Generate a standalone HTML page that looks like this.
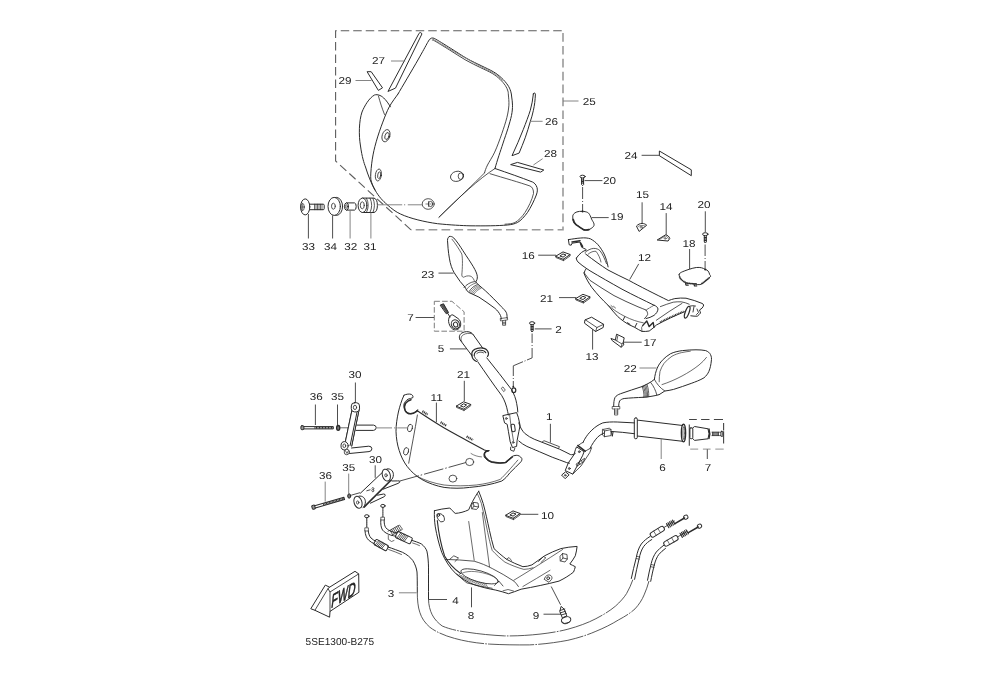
<!DOCTYPE html>
<html><head><meta charset="utf-8"><title>Parts diagram</title>
<style>
html,body{margin:0;padding:0;background:#fff;}
body{width:1005px;height:687px;overflow:hidden;font-family:"Liberation Sans",sans-serif;}
svg{display:block;}
svg text{font-family:"Liberation Sans",sans-serif;font-size:10px;fill:#222;stroke:none;text-rendering:geometricPrecision;}
.p{fill:none;stroke:#2b2b2b;stroke-width:1;stroke-linecap:round;stroke-linejoin:round;}
.w{fill:#fff;}
.l{stroke:#3a3a3a;stroke-width:0.9;fill:none;}
.g{stroke:#777;stroke-width:0.9;fill:none;}
.d{stroke:#7c7c7c;stroke-width:1;fill:none;stroke-dasharray:7 3.5;}
.c{stroke:#555;stroke-width:0.8;fill:none;stroke-dasharray:9 2 2 2;}
.t{stroke:#333;stroke-width:0.6;fill:none;}
</style></head><body>
<svg width="1005" height="687" viewBox="0 0 1005 687">
<rect width="1005" height="687" fill="#fff"/>
<!-- ===== Box 25 + windshield ===== -->
<g id="box25">
<path class="d" style="stroke:#5c5c5c;stroke-width:1.100;stroke-dasharray:8.500 4" d="M411,229.800 L335.600,161 V30.700 H563"/>
<path class="d" style="stroke:#9a9a9a;stroke-width:1.600;stroke-dasharray:8.700 4.200" d="M563,33 V229.800 H411"/>
<path class="g" d="M563,101 H578.5"/>
</g>
<g id="windshield" class="p">
<!-- main face -->
<path d="M398,94 C401.3,88.3 413,68.6 417.9,60 C422.8,51.4 425.7,46 427.6,42.5 Q429.4,38.6 431.5,38.1 Q433,37.8 434.3,38.4 C437.5,40.1 445.2,44.9 450.6,48.3 C456,51.6 461.8,55.6 466.9,58.5 C472,61.4 476.8,63.5 481.2,65.7 C485.6,67.9 490,69.8 493.4,71.8 C496.8,73.8 499.1,75.7 501.5,77.9 C503.9,80.1 506.2,82.8 507.7,85 C509.2,87.2 510,89.2 510.7,91.2 C511.4,93.2 511.4,94.7 511.7,97 C512,99.3 512.5,102.1 512.5,105.2 C512.5,108.3 512.3,111.5 511.5,115.4 C510.7,119.3 509.3,123.8 507.9,128.6 C506.4,133.3 504.8,137.8 502.8,143.9 C500.8,150 497,160.9 495,168.5"/>
<path d="M432.3,40 Q432.900,39.900 433.4,40.2 C436.4,41.8 444.2,46.7 449.6,50 C455,53.3 460.8,57.3 465.9,60.2 C471,63.1 475.9,65.3 480.3,67.5 C484.7,69.7 489.1,71.5 492.4,73.5 C495.7,75.5 497.9,77.4 500.1,79.4 C502.3,81.4 504.1,83.7 505.4,85.6 C506.7,87.5 507.4,89.4 507.9,91 C508.4,92.6 508.2,92.6 508.4,95 C508.6,97.4 509.1,101.5 508.9,105.2 C508.6,108.9 508.1,112.7 506.9,117.4 C505.7,122.2 503.8,127.9 501.8,133.7 C499.8,139.5 497.1,146.9 494.7,152.1 C492.3,157.3 489.2,161.6 487.5,165 C485.8,168.4 485,171.2 484.5,172.5" stroke-width="0.85"/>
<path d="M433.200,39.300 C452,50.500 478,65.500 492.800,72.700 C497,75 500,77.600 502.300,80.200" style="stroke:#888;stroke-width:1"/>
<path d="M398,94 C396.6,96.1 391.8,102.1 389.3,106.8 C386.8,111.5 385,116.3 382.8,122.1 C380.6,127.9 377.9,135.6 376.2,141.8 C374.4,148 373.2,153.4 372.3,159.2 C371.4,165 370.7,172.6 370.7,176.7 C370.7,180.8 371.5,181.8 372.2,184 C372.9,186.2 374.5,189 375,190"/>
<!-- left lobe -->
<path d="M390.4,106.8 C387,101 383,96.5 380,95.5 C378,94.5 376,94.5 374.5,95 C369,98 364.5,106 362,112 C359,121 358.6,135 360.5,146 C362,157 364,163 365.5,167 C368,175 371,183 375,190 C379,197 383,201 387,204.5 C392,209 396,212 400.5,214 C410,218.5 425,222 437.5,223.7 C450,225 462,225.6 470,225.8 C485,226 498,225.8 507.5,225 C512,224.6 515,223.7 517.5,222.5 C521,220.5 524,217 527.5,212.5 C531,207 534,201 536.3,195 C537.5,192 537.6,189.5 537,187.5 C536,184.5 534.5,183 532.5,182 C521,177.5 508,173 495,168.5"/>
<path d="M378.4,95.9 C380,102 382,108 384.5,114.5" stroke-width="0.8"/>
<!-- right lobe inner line -->
<path d="M490,173.7 C504,178 520,182.5 530,186 C532.5,187 533.7,190 533.5,193.5 C532,200 528.5,207 525,212.5 C522,217 518.5,220.5 515,222.5 C512,223.8 509,224 505,224.2" stroke-width="0.8"/>
<!-- crease -->
<path d="M495,168.5 C480,178 458,198 438.7,217.5 C456,201 474,183.5 485,172.5" stroke-width="0.8"/>
<!-- holes -->
<g stroke-width="0.8">
<ellipse cx="386" cy="135.7" rx="3.8" ry="6.3" transform="rotate(18 386 135.7)"/>
<ellipse cx="387" cy="136" rx="2" ry="3.6" transform="rotate(18 387 136)"/>
<ellipse cx="378.4" cy="175" rx="3" ry="6"  transform="rotate(8 378.4 175)"/>
<ellipse cx="379.2" cy="175.2" rx="1.5" ry="3.4" transform="rotate(8 379.2 175.2)"/>
<ellipse cx="457" cy="176.3" rx="6.6" ry="5"  transform="rotate(-15 457 176.3)"/>
<ellipse cx="460.8" cy="176.2" rx="2.6" ry="3.3"/>
<ellipse cx="428.2" cy="204" rx="6" ry="5.3"/>
<ellipse cx="430.5" cy="204" rx="2.2" ry="2.6"/>
</g>
</g>
<!-- strips 26..29 -->
<g id="strips" class="p" stroke-width="0.9">
<path d="M419.300,33 C420.100,32 421.600,32.600 421.900,34 L395.500,88.100 L388.300,91.300 Z"/>
<path d="M367.5,71.7 L371.2,71.7 L382.5,87.8 L378.7,90.2 Z"/>
<path d="M533.400,93.800 C533.700,92.600 535.300,92.800 535.400,94.100 C535.200,100 534.500,105.500 533.400,110.300 C532.500,114.500 531.500,118 530.300,121.500 C528.800,127 527,132.500 525.200,137.800 C523.300,143 521.200,148 519.100,153.100 L512,155.700 C516,147 519.800,138.500 523.200,129.700 C526,122.500 528.500,116 530.300,110.300 C531.800,105 532.800,99.500 533.400,93.800 Z"/>
<path d="M511,164.5 L517.5,162.4 L543.8,170 L541,171.9 Z"/>
</g>
<g id="stripleaders" class="g">
<path d="M391,61 H405.200"/>
<path d="M355.5,80.5 H371.5"/>
<path d="M531,121.300 H542.600"/>
<path d="M542.600,158.700 L533.400,165"/>
</g>
<!-- ===== parts 31-34 ===== -->
<g id="p33" class="p" stroke-width="0.9">
<ellipse class="w" cx="305.2" cy="206.9" rx="4.6" ry="8"/>
<path d="M309.6,204.2 H323.2 Q324.2,204.2 324.2,205.2 V208.7 Q324.2,209.7 323.2,209.7 H309.6"/>
<path d="M314.5,204.2 V209.7 M316,204.2 V209.7 M317.5,204.2 V209.7 M319,204.2 V209.7 M320.5,204.2 V209.7 M322,204.2 V209.7" stroke-width="0.7"/>
<ellipse cx="302.6" cy="207" rx="1.7" ry="3.6" stroke-width="0.7"/>
<path d="M300.9,207 H304.3 M302.6,203.6 V210.4" stroke-width="0.6"/>
</g>
<path class="l" d="M308.4,214 V238.5"/>
<g id="p34" class="p" stroke-width="0.9">
<ellipse cx="336.4" cy="206.4" rx="6.2" ry="9"/>
<ellipse class="w" cx="334.2" cy="206.4" rx="6.2" ry="9"/>
<ellipse cx="333.4" cy="206.2" rx="1.9" ry="3" stroke-width="0.8"/>
</g>
<path class="l" d="M332.6,215.4 V238.5"/>
<g id="p32" class="p" stroke-width="0.9">
<path d="M346.5,202.9 H354.5 Q356.2,203.2 356.2,206.5 Q356.2,209.8 354.5,210.1 H346.5"/>
<ellipse class="w" cx="346.5" cy="206.5" rx="2" ry="3.6"/>
<ellipse cx="346.5" cy="206.5" rx="0.9" ry="1.7" stroke-width="0.7"/>
</g>
<path class="g" d="M350.1,210.4 V238.5"/>
<g id="p31" class="p" stroke-width="0.9">
<path d="M362.5,198.1 H374 Q377.4,199 377.4,205.3 Q377.4,211.6 374,212.5 H362.5"/>
<path d="M366.5,198.2 Q370,205.3 366.5,212.4 M370,198.2 Q373.5,205.3 370,212.4 M373,198.4 Q376,205.3 373,212.3" stroke-width="0.8"/>
<ellipse class="w" cx="362.5" cy="205.3" rx="4.4" ry="7.2"/>
<ellipse cx="362.3" cy="205.3" rx="2" ry="3.5" stroke-width="0.8"/>
</g>
<path class="g" d="M370.9,212.5 V238.5"/>
<path class="g" d="M377.5,204.8 H402.2 M404,204.8 H405.2 M407.8,204.8 H422.2"/>
<path class="t" d="M425.5,204 H431.5 M428.5,201 V207"/>

<!-- ===== mirror 23 ===== -->
<g id="mirror23" class="p" stroke-width="0.9">
<path d="M449.3,236.5 C447.5,237.5 447.2,239.5 447.7,243 C448,250 449,257 450.2,262.5 C451.5,268 453.5,272 455.7,275 C458.5,279.5 461.5,283.5 464.8,287"/>
<path d="M449.3,236.5 C451,236 452.5,236.8 453.8,238 C457,241.5 460,246 463,250.8 C467,257 470.5,262 473.3,266.7 C475.5,270.5 477,273.5 477.3,276.3 C477.5,278.8 476.8,280.5 475.7,282"/>
<path d="M452,239.200 C455.500,243.500 459,249 461.800,254 C462.800,258.500 462.500,268 461.800,275 C462,277 463.200,277.800 464.500,276.800 C467,275.500 470,275.700 471.300,276.500 C472.800,277.500 473.800,279 474.300,280.500" stroke-width="0.7"/>
<!-- stem -->
<path d="M464.8,287 C466,289 467,291 468.5,292.3 C472,294 475.5,295.5 478.9,297.1 C484,300.5 490,304.5 494.9,308.3 C497.5,310.5 499.3,313 500.5,315.5 C501,316.7 501.2,317.8 501.3,319"/>
<path d="M475.7,282 C476.5,282.5 478,284 479,285.3 C481,287 483.5,289 485.3,290.7 C491,296 497,302 501.3,306.7 C503.5,308.8 505.2,310.5 506.2,312.3 C507,314 507.2,316 507,318"/>
<path d="M464,287.500 C466.500,284.500 470.500,282 474.800,281.500" stroke-width="0.8"/>
<path d="M469.100,291.500 C471,288.300 474.200,285.700 477.300,284.600" stroke-width="0.8"/>
<path d="M470.300,292.300 C472.200,289.200 475.200,286.700 478.300,285.500 M471.500,293 C473.400,290 476.300,287.600 479.300,286.400 M472.700,293.600 C474.600,290.700 477.400,288.400 480.300,287.300 M473.900,294.200 C475.700,291.500 478.400,289.300 481.200,288.200" stroke-width="0.55"/>
<path d="M466.300,289.800 C468.500,286.500 472,284 476,283" stroke-width="0.6"/>
<path d="M500.6,318.5 L507.4,317.6 L507.7,319.8 L500.9,320.9 Z M502.6,320.8 V325.3 H505.6 V320.4 M502.6,322.3 H505.6 M502.6,323.8 H505.6" stroke-width="0.7"/>
</g>
<path class="l" d="M438.5,273.1 H453.6"/>

<!-- ===== part 7 left (box + grip end) ===== -->
<g id="box7l">
<path class="d" style="stroke-dasharray:5.6 2.2" d="M434.3,301.3 H451.9 L464.1,311.8 V331.2 H434.3 Z"/>
<path class="l" d="M415.6,317.5 H434"/>
<g class="p" stroke-width="0.8">
<path d="M440.5,305 L443.5,303.8 L448.5,312.5 L446.6,313.6 Z" fill="#555"/>
<path d="M447.5,313 L450,317" />
<path d="M449.5,316.8 C448.5,318.5 448.2,321 449,323.5 C450,327 452,329.3 454.5,329.8 C457.5,330.3 460.3,328.3 460.7,325 C461,322 459.8,319.7 458,318.5 L453,315 C451.8,314.5 450.4,315.3 449.5,316.8 Z"/>
<ellipse cx="455.4" cy="324.3" rx="4" ry="4.6" transform="rotate(-25 455.4 324.3)"/>
<ellipse cx="455.6" cy="324.6" rx="2.1" ry="2.5" transform="rotate(-25 455.6 324.6)"/>
</g>
</g>
<!-- ===== part 24 ===== -->
<path class="p" stroke-width="0.9" d="M659.7,151.2 L691.3,169.8 V175.7 L659.7,155.9 Z"/>
<path class="l" d="M641.6,155.3 H659.7"/>
<!-- ===== screw 20 L + 19 ===== -->
<g id="p20l" class="p" stroke-width="0.8">
<ellipse cx="582.6" cy="176.6" rx="2.6" ry="1.4"/>
<path d="M581.6,178 V184.6 L582.6,185.6 L583.6,184.6 V178 M581.6,180 H583.6 M581.6,181.5 H583.6 M581.6,183 H583.6"/>
</g>
<path class="l" d="M584.6,180.6 H602.4"/>
<path class="l" d="M582.6,187 V199 M582.6,201 V202 M582.6,204 V211" stroke-width="0.8"/>
<g id="p19" class="p" stroke-width="0.9">
<path d="M582.3,211.3 C584.1,211.4 586.4,211.8 587.7,212.5 C589.0,213.2 589.5,214.4 590.1,215.5 C590.8,216.6 591.0,217.7 591.6,219.1 C592.2,220.5 593.8,222.6 594.0,223.9 C594.2,225.2 594.0,226.0 593.1,226.9 C592.2,227.8 590.4,229.1 588.9,229.6 C587.4,230.1 585.8,230.4 584.1,229.9 C582.4,229.4 580.4,227.5 578.7,226.3 C577.0,225.1 575.0,224.1 574.0,222.7 C573.0,221.3 572.9,219.3 572.8,217.9 C572.7,216.5 572.7,215.3 573.4,214.3 C574.1,213.3 575.4,212.4 576.9,211.9 C578.4,211.4 580.5,211.2 582.3,211.3 Z"/>
<path d="M573.2,219.500 C573.600,221.500 574.500,223.300 576,224.600 C578.500,226.400 581.500,228.500 584.100,229.900 C585.800,230.100 587.500,230 588.900,229.600" stroke-width="1.700"/>
<circle cx="582.600" cy="211.600" r="1" style="fill:#222;stroke:none"/>
</g>
<path class="l" d="M591.6,217.6 H608.7"/>
<!-- ===== 15 / 14 ===== -->
<path class="l" d="M642.1,202.3 V224"/>
<g id="p15" class="p" stroke-width="0.9">
<path d="M636.7,225.8 C638,224.3 640,223.5 642.1,223.4 C644,223.5 645.7,224.2 646.7,225.2 L639.4,231.2 Z"/>
<path d="M638,226.5 C639.5,225.3 642.5,225 645,226" stroke-width="0.6"/>
<ellipse cx="641.2" cy="227.2" rx="1.1" ry="0.9" stroke-width="0.6"/>
</g>
<path class="l" d="M666.2,213.1 V234.8"/>
<g id="p14" class="p" stroke-width="0.9">
<path d="M657.5,239.8 L665.6,234.8 C667.5,235.2 669.2,236.5 669.8,238.4 L668.3,240.7 Z"/>
<path d="M659.5,239.3 L665.5,236 C667,236.5 668,237.5 668.5,238.8" stroke-width="0.6"/>
<ellipse cx="665.2" cy="238.4" rx="1" ry="0.8" stroke-width="0.6"/>
</g>
<!-- ===== screw 20 R + 18 ===== -->
<path class="l" d="M705.3,211.3 V232"/>
<g id="p20r" class="p" stroke-width="0.8">
<ellipse cx="705.3" cy="234.2" rx="2.7" ry="1.5"/>
<path d="M704.3,235.7 V242 L705.3,243 L706.3,242 V235.7 M704.3,237.5 H706.3 M704.3,239 H706.3 M704.3,240.5 H706.3"/>
</g>
<path class="l" d="M705.1,244.5 V256 M705.1,258 V259 M705.1,261 V268.6" stroke-width="0.8"/>
<path class="l" d="M689.6,249 V269"/>
<g id="p18" class="p" stroke-width="0.9">
<path d="M679.3,274.1 C679.6,273.5 679.7,273.1 681.3,272.3 C682.9,271.5 686.6,270.1 689.1,269.3 C691.6,268.5 694.2,267.8 696.3,267.5 C698.4,267.2 700.1,267.5 701.6,267.8 C703.1,268.1 704.1,268.8 705.2,269.3 C706.3,269.9 707.5,270.2 708.2,271.1 C709.0,272.0 709.4,273.7 709.7,274.7 C710.0,275.7 711.5,275.5 710.0,277.1 C708.5,278.7 703.7,283.2 701.0,284.3 C698.3,285.4 696.3,283.9 693.9,283.7 C691.5,283.5 688.8,283.8 686.7,283.1 C684.6,282.4 682.5,280.7 681.3,279.5 C680.1,278.3 679.6,276.8 679.3,275.9 C679.0,275.0 679.0,274.7 679.3,274.1 Z"/>
<path d="M679.500,276.500 C680,278 681,279.500 682.500,280.600 C684,281.800 685.500,282.600 686.700,283.100 C690,283.600 694,283.800 697,284 M701.500,283.800 C704.500,281.500 707.500,279.200 709.800,277.300" stroke-width="1.700" stroke-dasharray="1 0.500" stroke-linecap="butt"/>
<path d="M685.500,283.500 L686,285.200 L688.200,285.200 M694,284.200 L694.500,286 L696.800,285.800" stroke-width="1.200"/>
<circle cx="705.300" cy="269.500" r="1.100" style="fill:#222;stroke:none"/>
</g>
<!-- ===== clips 16, 21(R), 21(L), 10 ===== -->
<defs>
<g id="clip">
<path d="M-7.100,0.500 L0,-3.700 L7.100,-1.100 L0.500,3.500 Z"/>
<path d="M-7.100,0.500 V1.900 L0.500,5 V3.500 M0.500,5 L7.100,0.300 V-1.100" stroke-width="0.8"/>
<path d="M-2.800,0.200 L0,-1.700 L3,-0.600 L0.400,1.300 Z" stroke-width="1"/>
</g>
</defs>
<g class="p" stroke-width="0.9">
<use href="#clip" x="563" y="255.6"/>
<use href="#clip" x="582.9" y="298"/>
<use href="#clip" x="463.6" y="405.5"/>
<use href="#clip" x="513" y="514.6"/>
</g>
<path class="l" d="M538.2,255.2 H556"/>
<path class="l" d="M559,297.6 H576.2"/>
<path class="l" d="M464.3,380.8 V401.3"/>
<path class="l" d="M520.2,514.3 H538.3"/>
<!-- ===== 13 ===== -->
<g id="p13" class="p" stroke-width="0.9">
<path d="M585.300,319.800 L591.600,317.200 L603.600,324.300 L603.200,327.500 L595.600,331.500 L584.800,323.400 Z"/>
<path d="M585.300,319.800 L596.900,327.500 L603.600,324.300 M596.900,327.500 L595.600,331.500" stroke-width="0.8"/>
</g>
<path class="l" d="M592.600,329.200 V349.600"/>
<!-- ===== 17 ===== -->
<g id="p17" class="p" stroke-width="0.9">
<path d="M611.300,338.600 L615.300,340 L616.600,334.200 L624.200,337.800 L623.300,342.200 L623.800,344.900 L621.100,347.200 L612.600,340.900 Z"/>
<path d="M615.300,340 L622,344 L623.300,342.200 M622,344 L621.100,347.200 M617.800,335.800 L616.800,340.800" stroke-width="0.75"/>
</g>
<path class="l" d="M624,342.200 H641.700"/>
<!-- ===== screw 2 ===== -->
<g id="p2" class="p" stroke-width="0.8">
<ellipse cx="532.1" cy="323.2" rx="2.6" ry="1.5"/>
<path d="M531.1,324.7 V331 L532.1,332 L533.1,331 V324.7 M531.1,326.5 H533.1 M531.1,328 H533.1 M531.1,329.5 H533.1"/>
</g>
<path class="l" d="M534.7,328.9 H551.6"/>
<path class="l" stroke-width="0.8" d="M532.1,333.5 V343 M532.1,345 V346 M532.1,348 V357.9 L527,360 M525.5,360.7 L524.5,361.1 M523,361.7 L513.3,365.8 V376 M513.3,378 V379 M513.3,381 V386.5"/>
<!-- ===== part 12 (upper handlebar cover) ===== -->
<g id="p12" class="p" stroke-width="0.9">
<!-- left hook bracket -->
<path d="M568.400,239.600 L569.200,244.800 L571.200,245.200 L572,243.200 L580,242 L581.600,247.200 L585.600,249.200 M568.400,239.600 C573,239 577,238.2 580.8,238 C584.5,237.6 588,238 590.4,238.8 C593.5,240.5 596,242.5 597.7,244.4 C600.5,247.5 602.5,251 604.1,254 C606,258 607.3,262.5 608.1,266.9"/>
<path d="M572,242 L580,240.800 M580.500,243 L582.500,246.500" stroke-width="1.600"/>
<path d="M585,252.5 C587.5,250.2 590.5,248.6 593.7,248.4 C596.5,248.3 598.5,249.3 600.1,250.8 C602.8,254.5 604.8,259 606.5,263.7" stroke-width="0.8"/>
<path d="M588,254.3 C590.5,252 593.5,251 596,251.3 C598.5,254.5 600.3,258.5 601,262" stroke-width="0.7"/>
<!-- beam top surface -->
<path d="M576.400,258 C577.800,256 579.600,254 581.600,252.400 C583,251.300 584.800,250.500 586.400,250 M585.600,254 C589.500,257 593.500,260 597,262.500 C600.500,265 604.500,267.800 608,270 C614.500,273.500 621.500,276.800 628.900,280.400 C640,286.500 655,294 668.400,300.600 C670.500,299.800 672.600,299.100 674.800,298.600 C678.500,298 682.500,297.900 686,298.200 C691.500,299.500 697,301.300 702,303.400 C702.800,303.800 703.400,304.300 703.700,305 C703.400,306.200 702.800,307.300 702,308.200 C701.200,308.900 700.300,309.500 699.500,310 C700,311 700.300,312 700.500,313 C699.600,314.200 698.500,315.300 697.300,316.200 C695.200,316.300 693,316.100 690.800,315.800"/>
<path d="M576.400,258 C576.300,259.500 577,260.800 578,262 C580.500,264.200 583.500,266.500 586.400,268.400 L590,270.800 C600,276.800 611,283 622,289.200 C633,295 644,300.300 654,305.200 C656.300,306 657.800,307.400 658,309 C657.800,311.500 656.200,313.700 654,315.400 C651.500,316.900 648.800,318 646,318.600"/>
<path d="M584,272.500 C586,275.500 588,278 590,280.400 C598,285.800 606,290.800 614,295.600 C622,299.800 630,303.300 638,306.800 C641,308 643.500,309 646,310 C647.200,311.400 647.800,313 647.600,314.600 C646.800,316.200 645.700,317.600 644.400,318.600" stroke-width="0.85"/>
<path d="M654,305.200 L646,310" stroke-width="0.7" stroke-dasharray="2 1"/>
<path d="M586.400,268.400 C585.300,269.800 584.400,271.500 584,273.300 C586,278.500 589,283.500 592,287.700 C597,294 602.500,300 608.100,305.300 C611.200,309.200 614.500,313 617.700,316.500 C621.200,319.700 625,322.400 628.900,324.600 C630.800,325.600 632.800,326.500 634.800,327.400 C637,328.800 639.500,330.200 642,331.400 C644.500,331.600 647,331.400 649.200,331 C651.800,329.300 654.200,327.200 656.400,325 C665.500,320 675.500,315.500 684.400,311.800"/>
<!-- right arm -->
<path d="M660.400,306.600 C664.500,305 669,303.400 673.200,302.200 C675.800,301.800 678.500,301.700 681.200,301.800 C684,302.300 686.800,303.100 689.200,304.200" stroke-width="0.8"/>
<path d="M656.400,320.200 C664.500,314.500 673.500,308.500 682,303.400" stroke-width="0.8"/>
<path d="M660,322.200 C667,318.500 675,315 683.500,311.300" stroke-width="1.700" stroke-dasharray="0.9 0.800" stroke-linecap="butt"/>
<ellipse cx="687.200" cy="312.200" rx="1.900" ry="6.200" transform="rotate(20 687.200 312.200)" stroke-width="1.300"/>
<path d="M690.300,306 C692,305.600 693.800,305.600 695.500,306 M694,306.500 L693,312 M697,309 L698.500,312.500 L696.500,314.500" stroke-width="0.9"/>
<!-- bottom details -->
<path d="M608.100,305.300 C613,309.500 619,313.500 625,316.500 C631,319.500 637.500,321.800 643.300,322.800 M611,305.500 L613,307.300 M613.500,306.300 L615.500,308" stroke-width="0.7"/>
<path d="M624.700,316.700 L623.300,319.800 M636.800,323.400 L635,327 M627.500,322.700 L630,324.400" stroke-width="1"/>
<path d="M642.800,325.400 L646.800,321 L649.200,326.600 L653.200,322.600 L654,327.400" stroke-width="1.400"/>
<path d="M642,331.400 L641.600,327.500 L642.800,325.400" stroke-width="0.7"/>
</g>
<path class="l" d="M638.7,263.9 L629.7,279.5"/>

<!-- ===== mirror 22 ===== -->
<g id="mirror22" class="p" stroke-width="0.9">
<path d="M654.400,379.400 C654.800,375.500 655.800,371.500 657.200,368.200 C658.500,365 660.300,362.500 662.400,360.200 C664.800,357.700 667.500,355.500 670.400,353.800 C674,352 678,351.200 682.400,350.600 C687,350.100 691.500,349.800 696,349.800 C699.500,349.800 702.800,350 705.700,350.600 C708,351.500 709.700,352.800 710.500,354.600 C711.500,356.500 711.700,358.800 711.300,361 C711,364.500 710.200,368.200 708.900,371.400 C707.800,373.800 706.200,376 704,377.800 C700,380.200 695.500,381.800 691.200,383.400 C685.500,385.500 679.500,387.500 673.600,389.400 C670.500,390.200 667.500,390.700 664.800,391 C662.800,392.200 660.800,393.500 659.200,394.600"/>
<path d="M659.200,381.800 C659.200,378.300 659.400,374.800 660,371.400 C661,368.500 662.300,365.800 664,363.400 C666.200,360.700 669,358.300 672,356.200 C675,354.500 678.300,353.400 681.600,352.600 C684.500,352 687.500,351.500 690.300,351.200" stroke-width="0.7"/>
<path d="M662,384.600 C668.500,382.500 675.500,379.500 682,376 C688,372.800 694,369 699,365 C702,362.500 704.600,360 706.500,357.400" stroke-width="0.7"/>
<!-- neck -->
<path d="M654.400,379.400 C652.500,381 650,382.600 648,383.600 C646,384.700 644,385.700 642.200,386.500 M659.200,394.600 C657.500,395.200 654.500,395.800 652,396.200 C649,396.800 646,397.200 643.100,397.300"/>
<path d="M654.400,379.400 C656.800,383.800 660,388 664.800,391 M650.800,382.600 C653.500,386 655.800,390.500 656.800,394.900" stroke-width="0.8"/>
<path d="M642.200,386.500 C643.500,390 644.200,394 643.900,397.300 M643.400,386 C644.700,389.600 645.400,393.600 645.100,397.200 M644.600,385.500 C645.900,389.100 646.600,393.200 646.300,397.100 M645.800,385 C647.100,388.700 647.800,392.900 647.500,396.900 M647,384.400 C648.300,388.200 649,392.500 648.700,396.700" stroke-width="0.75"/>
<!-- stem -->
<path d="M642.2,386.5 C635,388.8 627.5,391.3 620.6,393.7 C618,394.6 616.2,395.8 615.1,397.3 C614,399.5 613.7,402.8 613.7,406.3"/>
<path d="M643.1,397.3 C637,397.6 630,397.9 624.2,398.5 C622,398.9 620.5,399.8 619.6,400.9 C618.9,402.5 618.7,404.5 618.7,406.3"/>
<path d="M612.6,406.5 H619.8 V409 H612.6 Z M614.5,409 V415 H617.7 V409 M614.5,411 H617.7 M614.5,413 H617.7" stroke-width="0.7"/>
</g>
<path class="g" d="M639.5,368 H656.7"/>

<!-- ===== grip 6 ===== -->
<g id="grip6" class="p" stroke-width="0.9">
<path d="M637.3,420.1 L682.7,425.5 M637.3,436 L682.7,441.3"/>
<rect x="634.3" y="417.8" width="3" height="21" rx="1.5" class="w"/>
<ellipse cx="683.500" cy="433.100" rx="2.100" ry="8.800" stroke-width="1.400"/>
<ellipse cx="683.900" cy="433.100" rx="1" ry="6.600" stroke-width="0.7"/>
</g>
<path class="g" d="M661.2,438.7 V459"/>
<!-- ===== box 7 right ===== -->
<g id="box7r">
<path d="M689.100,419.500 H696.800 M701.100,419.500 H709.500 M713.900,419.500 H723 M689.300,424.600 V445.700 M723.600,423.100 V430.400 M723.600,431.300 V443.500" style="stroke:#444;stroke-width:1.100;fill:none"/>
<path d="M690.200,449.200 H698.200 M702.900,449.200 H710.600 M715.300,449.200 H723.700" style="stroke:#a8a8a8;stroke-width:1.300;fill:none"/>
<path class="l" d="M707.300,449.300 V459"/>
<g class="p" stroke-width="0.9">
<path d="M692.8,427.9 L694.6,426.5 L708,428.8 Q710,433.8 708,438.8 L694.6,440.4 L692.8,438.7"/>
<rect x="689.9" y="427.9" width="2.9" height="10.8" rx="1"/>
<path d="M709,429 Q710.6,433.8 709,438.6" stroke-width="1.4"/>
<path d="M711.9,432.2 H721 M711.9,435.6 H721" stroke-width="0.7"/>
<path d="M712.5,432.2 V435.6 M713.7,432.2 V435.6 M714.9,432.2 V435.6 M716.1,432.2 V435.6 M717.3,432.2 V435.6 M718.5,432.2 V435.6" stroke-width="0.8"/>
<rect x="720.9" y="431.3" width="1.9" height="5.2" rx="0.8"/>
</g>
</g>
<!-- ===== grip 5 + handlebar 1 ===== -->
<g id="grip5" class="p" stroke-width="0.9">
<path d="M460.1,339.9 L472.3,356.2 M473.3,334.8 L483,348.5"/>
<path d="M460.1,339.9 C458.6,337.3 459.3,334.6 461.8,333 C464.8,331.2 468.5,331.3 471,332.6 C472,333.2 472.8,334 473.3,334.8"/>
<path d="M461.700,341.5 C460.300,339 461,336.300 463.300,334.800 C466,333.200 469.300,333 471.800,333.700" stroke-width="0.7"/>
<!-- collar -->
<path d="M471.800,354.600 C471.500,351.800 473.800,349.200 477.500,348.300 C481.500,347.500 485.800,348.500 487.600,351 C488.800,352.800 488.700,354.800 487.500,356.500" stroke-width="1.2"/>
<path d="M471.800,354.600 C471.800,357.500 473.500,360.300 476.500,361.500" stroke-width="1.2"/>
<path d="M474.200,355.300 C474.300,352.800 476.300,350.800 479.300,350.300 C482.300,350 484.800,351 485.800,352.700" stroke-width="1.1"/>
<path d="M474.200,355.300 C474.500,357.500 475.800,359.300 477.800,360.500 M476.800,353.500 C478.500,351.800 481.500,351.600 483.500,352.800" stroke-width="0.8"/>
</g>
<path class="l" d="M449.9,348.9 H466.5"/>
<g id="hbar" class="p" stroke-width="0.9">
<!-- left pipe -->
<path d="M477.8,361.8 C485,372 493,384 501.8,395.7 C504.5,400 506.5,405.5 507.7,411.7 C508,413 508.2,414 508.3,415"/>
<path d="M486.8,357.9 C495,368 503.5,379 511.7,389.8 C514,394 516,399 516.7,403.7 C517.3,406.5 517.7,409.5 517.8,412"/>
<path d="M503.2,387.2 L505.3,390.2 L503.6,391.6 L501.5,388.6 Z" stroke-width="0.7"/>
<ellipse cx="513.800" cy="390.300" rx="2" ry="2.400" stroke-width="1.200"/>
<circle cx="513.3" cy="386.7" r="0.9" fill="#222" stroke="none"/>
<!-- left bracket -->
<path d="M503.200,415.500 L516.600,412.600 L518.300,417.300 L520.100,425.500 L518.900,431.300 L517.100,440.600 L516.600,446.400 L512.500,447.600 L510.200,441.800 L508.400,431.300 L507.200,424.300 L504.900,423.100 Z"/>
<path d="M509.600,414.200 L510.500,422 L512,432 L513.500,441" stroke-width="0.7"/>
<rect x="511.300" y="424.200" width="3.600" height="7.400" rx="1.300" transform="rotate(-8 513.100 427.800)" stroke-width="1"/>
<circle cx="506.300" cy="418.500" r="0.900" stroke-width="0.8"/>
<circle cx="513.100" cy="442.400" r="0.900" stroke-width="0.8"/>
<path d="M510.700,447.200 L510.500,450 L513.800,451.300 L514.800,448.300" stroke-width="0.9"/>
<!-- middle pipe -->
<path d="M518.8,422.9 C520,427.5 522.5,431.2 525.1,433.7 C528,436 531,437.8 534.2,439.2 C542.5,442.5 551,445.8 559.4,449.1 C563,450.8 567,452.8 570.3,454.5 C572,455 574,454.6 575.3,453.5"/>
<path d="M518.8,441 C521,443 524,445 526.9,446.4 C535.5,450 544,453.7 552.2,457.2 C557,459 562,460.8 566.7,462.6 C567.8,463 568.7,463.2 569.5,463.2"/>
<path d="M542.3,441.9 L544,440.7 L559.5,446.7 L558.5,448.4" stroke-width="0.8"/>
<!-- right bracket -->
<path d="M576.900,447.100 L584.100,451.700 L582.500,455.800 L572.800,474.100 L565.200,470.600 L568.300,462.900 L573.900,454.800 L575.400,449.700 Z"/>
<path d="M577.900,445.600 L585.100,451.200" stroke-width="1.700"/>
<path d="M577.900,445.600 L582.500,442.500 M585.100,451.200 L591.700,447.600 L589.700,452.700 L581,466 L572.800,474.100" stroke-width="0.8"/>
<path d="M576.400,463.900 L584.600,458.300 L583.600,461.500 L577.500,466 Z M579,462.300 L580,464.200 M581.500,460.600 L582.300,462.400" stroke-width="0.8"/>
<circle cx="579.300" cy="451.700" r="0.900" stroke-width="0.9"/>
<circle cx="569.300" cy="468.500" r="0.900" stroke-width="0.9"/>
<path d="M565.200,472.100 L561.600,475.100 L565.200,478.700 L568.800,475.100 Z" stroke-width="1"/>
<circle cx="565.200" cy="475.300" r="0.800" stroke-width="0.8"/>
<!-- right pipe -->
<path d="M582.9,442.8 C583.5,441.5 584,440.3 584.7,439.2 C586.5,436 589,432.8 591.9,430.1 C595,427 598.8,424.5 602.8,422.9 C607,422 612,421.8 617.2,422 C623,422.3 629,422.6 634.4,422.9"/>
<path d="M590.1,448.2 C592,444.5 594.5,440.5 597.4,437.4 C599.5,435.3 602,433.8 604.6,432.8"/>
<path d="M610.9,431.4 C618.5,431.8 627,432.8 634.4,433.7"/>
<!-- switch tab -->
<path d="M602.8,429.5 L609.3,428.2 L611,429.5 L611,435.6 L604.5,436.7 L602.8,435.3 Z M604.5,431 V436.7 M604.5,431 L611,429.6 M602.8,429.5 L604.5,431" stroke-width="0.8"/>
<path d="M611.5,431.5 L612.3,436.3 L613.1,432" stroke-width="1"/>
</g>
<path class="l" d="M550.4,423.8 V442.6"/>

<!-- ===== cover 11 ===== -->
<g id="p11" class="p" stroke-width="0.9">
<path d="M404,395.2 C406.5,394 409.5,393.7 411.3,394.4 C412.8,395.2 413.3,396.5 412.9,397.6 C411.5,398.3 409.7,398.6 408,399.2 C406,400.5 404.6,402.2 404,404 C403.6,406.5 404.3,409.2 405.6,411.3 C407.5,413.2 410,414 412,413.7 C414.2,413 416.3,411.3 417.7,409.6"/>
<path d="M404,395.2 C401.5,400.5 399.7,406.5 398.4,412 C397,418.5 396,425 396,431.3 C396.2,438 397.3,445 399.2,450.5 C401,456.5 403.8,462 407.2,466.5 C411,471.5 416,476 421.7,479.4 C428.5,483.3 436.5,486 444.1,487.4 C452.5,488.5 461.5,488.5 469.7,487.4 C481,486.5 492.5,484.3 501.8,481 C505,479 507.5,476 509.8,472.9 C513.5,469.3 517.5,465.3 521,461.7 C521.8,460.6 522.1,459.5 521.8,458.5 C520.5,456.3 518.3,455.2 516.2,455.3 C514.3,455.4 512.7,456 511.4,456.9 C509.5,458.5 508,460.5 506.6,462.5 C502,463.3 497,463.3 492.2,462.5 C489,461.5 486,459.5 484.2,456.9 C483.8,455 484.2,453.3 485,452.1 C486,451 487.5,450.5 489,450.5"/>
<path d="M417.4,410.8 C423,414.5 430,419.200 436.900,423.400 C441.500,426.300 446,429 450.900,431.800 C456.500,435 462,437.900 467.700,440.900 C473.500,444 479,447 484.400,450 C486,450.600 487.500,450.800 488.600,450.700" stroke-width="1.15"/>
<path d="M417.400,415 C415,430 411.500,447.500 408.700,463.200" stroke-width="0.8"/>
<path d="M416.900,476.200 C425,480.500 434.500,483.500 444.100,485 C454.500,486.200 466,486 476.200,485 C485,484 493.500,482 500.200,479.400 C505,475 511.500,467.500 517.800,460.100" stroke-width="0.7"/>
<path d="M421.800,412.300 L427,415.600 M440,423.300 L446,427 M466,437.600 L472.500,441.200" stroke-width="2.200" stroke-dasharray="1.1 0.700" stroke-linecap="butt" transform="translate(0.600,-1.100)"/>
<ellipse cx="410" cy="428" rx="2.4" ry="3.8" transform="rotate(15 410 428)" stroke-width="0.8"/>
<ellipse cx="406.1" cy="451.3" rx="2.4" ry="3.8" transform="rotate(15 406.1 451.3)" stroke-width="0.8"/>
<ellipse cx="469.7" cy="462" rx="4" ry="3.6" stroke-width="0.8"/>
<ellipse cx="452.9" cy="478.6" rx="3.9" ry="3.5" stroke-width="0.8"/>
<path d="M471,453.5 C474,455.5 478,456.7 481.5,456.9" stroke-width="0.6"/>
<path d="M411,399.700 C408.500,400.300 406.800,401.500 405.600,403.200 C404.300,405.500 404.200,408.500 405.300,410.800 C406.500,412.800 408.300,413.800 410.500,413.800 C413,413.500 415.500,412.300 417.400,410.800" stroke-width="1.500"/>
<path d="M488.600,450.700 C486.500,451 485,452 484.500,453.500 C484.200,455 484.800,456.500 485.800,457.700 C487.300,459.700 489.300,461 491.400,461.800 C496,463 501,463.200 505.400,462.500 C507.800,460.800 510,458.800 512.400,457" stroke-width="1.500"/>
</g>
<path class="l" d="M436.4,402.6 V422.3"/>
<!-- ===== brackets 30 + bolts 35/36 (upper) ===== -->
<path class="l" d="M355.4,382.5 V403"/>
<path class="l" d="M315.4,404.5 V425"/>
<path class="l" d="M337.5,404.5 V425"/>
<g id="p36u" class="p" stroke-width="0.8">
<rect x="300.900" y="425.700" width="3" height="4" rx="1" style="fill:#999"/>
<path d="M303.900,426.600 H333.300 V428.900 H303.900"/>
<path d="M314.500,427.750 H333" stroke-width="2" stroke-dasharray="1 0.500" stroke-linecap="butt" style="stroke:#333"/>
<ellipse cx="338.200" cy="427.900" rx="1.600" ry="2.400" stroke-width="1.300" style="fill:#777"/>
<path d="M340.500,427.800 H348" stroke-width="0.7"/>
<ellipse cx="350.100" cy="427.900" rx="1.400" ry="1.800" style="fill:#333"/>
</g>
<g id="p30u" class="p" stroke-width="0.9">
<path d="M357,425.1 H373.5 Q376.2,425.4 376.2,427.7 Q376.2,430 373.5,430.4 H356"/>
<path d="M351.5,448 L368.8,446.2 Q371.8,446.2 371.9,448.8 Q371.8,451.3 369,451.6 L349.5,453.5"/>
<path d="M352,410 L345.2,442.5 M359.3,408.5 L351.7,446 M357.6,409.3 L350.2,445.2" class="w"/>
<path d="M352,410 L359.3,408.5 L351.7,446 L345.2,442.5 Z" fill="#fff" stroke="none"/>
<path d="M352,410 L345.2,442.5 M359.3,408.5 L351.7,446 M357.6,409.3 L350.2,445.2"/>
<rect x="351.3" y="402.7" width="8.2" height="9.2" rx="3.2" class="w"/>
<ellipse cx="355" cy="407.4" rx="1.6" ry="2.2" stroke-width="0.8"/>
<ellipse cx="344.6" cy="445.8" rx="3.6" ry="4.2" class="w"/>
<ellipse cx="344.3" cy="445.8" rx="1.4" ry="1.9" stroke-width="0.8"/>
<ellipse cx="346.8" cy="452" rx="2.6" ry="2.8" class="w" stroke-width="0.8"/>
<path d="M345.3,450.5 L347,453.5 L348.3,450.8" stroke-width="0.7"/>
</g>
<path class="g" d="M376.8,427.9 H392 M394,427.9 H395.2 M397.3,427.9 H408"/>
<!-- ===== lower 30/35/36 ===== -->
<path class="l" d="M375.2,465.3 V477.8"/>
<path class="g" d="M348.7,473.6 V493.6"/>
<path class="g" d="M325.2,481.6 V501.6"/>
<g id="p36l" class="p" stroke-width="0.8" transform="rotate(-16 313.1 507.2)">
<rect x="312" y="505.300" width="3" height="4" rx="1" style="fill:#999"/>
<path d="M315,506.200 H345.500 V508.500 H315"/>
<path d="M323.500,507.350 H345.200" stroke-width="2" stroke-dasharray="1 0.500" stroke-linecap="butt" style="stroke:#333"/>
</g>
<ellipse class="p" cx="349.2" cy="496" rx="1.5" ry="2.2" stroke-width="1.3" style="fill:#777"/>
<g id="p30l" class="p" stroke-width="0.9">
<!-- pins behind -->
<path d="M383.200,489.200 L398,483.400 Q400.300,482.300 399.900,481.500 Q399.400,480.600 397.500,480.900 L392,481"/>
<path d="M377.600,495.200 L383.600,494 Q385.600,494.200 385.200,495.400 Q385,496.300 384.200,496.700 L370.400,503.200"/>
<!-- bar -->
<path d="M360.400,493.200 L382.800,472 L391.200,480 L364,507.200 Z" fill="#fff" stroke="none"/>
<path d="M360.400,493.200 L382.800,472"/>
<path d="M364,507.200 L391.200,480" stroke-width="1.700"/>
<!-- upper boss -->
<path d="M387,468.900 C390.500,468.300 393.300,470.800 393.400,474.600 C393.400,477.200 392.400,479.200 391,480.200" class="w"/>
<ellipse cx="386.300" cy="475.100" rx="3.900" ry="6.100" transform="rotate(-18 386.300 475.100)" class="w"/>
<ellipse cx="386" cy="475.300" rx="1.200" ry="1.600" stroke-width="0.8"/>
<!-- lower boss -->
<path d="M359,496.100 C362.500,495.500 365.300,498 365.400,501.800 C365.400,504.400 364.400,506.400 363,507.400" class="w"/>
<ellipse cx="358" cy="502.300" rx="3.900" ry="6.100" transform="rotate(-18 358 502.300)" class="w"/>
<ellipse cx="357.700" cy="502.500" rx="1.200" ry="1.600" stroke-width="0.8"/>
<path d="M371.800,488.300 C372.500,487.300 373.800,487.500 373.900,488.600 C374,489.500 373,490 372.500,489.600 C373.500,489.600 374.200,490.500 373.700,491.300 C373.100,492.100 371.800,491.700 371.700,490.700" stroke-width="0.9"/>
</g>
<path class="l" stroke-width="0.7" stroke-dasharray="20 2 1.5 2" d="M351.2,495.2 L360,492.7 M366.400,490.900 L370.500,489.700 M399.500,481.100 L466,462.500"/>
<!-- ===== cables 3 / 4 (left ends) ===== -->
<g id="cables" class="p" stroke-width="0.8">
<!-- cable 3 end -->
<ellipse cx="366.8" cy="516.2" rx="2.2" ry="1.5"/>
<path d="M366.8,517.7 V527.5" stroke-width="1.1" stroke-dasharray="1.2 0.8"/>
<path d="M365.2,527.8 H368.4 V531 H365.2 Z" stroke-width="0.7"/>
<path d="M365,531 C365.3,535 366.5,538 368.5,540 C370.3,541.8 372.5,543 374.3,543.8 M368.3,531 C368.6,534 369.5,536.3 371,538 C372.5,539.5 374.3,540.6 376,541.3"/>
<g transform="rotate(29 381 545)">
<rect x="374" y="542.1" width="14.4" height="5.8" rx="1.2"/>
<path d="M377,542.1 L375.8,547.9 M378.5,542.1 L377.3,547.9 M380,542.1 L378.8,547.9 M381.5,542.1 L380.3,547.9 M383,542.1 L381.8,547.9 M384.500,542.1 L383.3,547.9" stroke-width="0.7"/>
</g>
<path d="M387.5,546.8 C393,548.7 398,550.5 402.5,552.3 C407,554.5 410.5,557.5 412.8,560.5 C415,564 416.5,568 417,572 C417.3,577 417.3,584 417.3,592" />
<path d="M388.6,549.5 C393,551 397.5,552.7 401.5,554.5" stroke-width="0.7"/>
<!-- cable 4 end -->
<ellipse cx="382.9" cy="505.9" rx="2.2" ry="1.5"/>
<path d="M382.9,507.4 V517" stroke-width="1.1" stroke-dasharray="1.2 0.8"/>
<path d="M381.2,517.2 H384.5 V520 H381.2 Z" stroke-width="0.7"/>
<path d="M380.8,520 C380.5,524 381,527.5 382.5,530 C384.5,532.5 387.5,534 390.5,535 C392.5,535.6 394.5,536 396,536.3 M384.2,520 C384,523 384.5,525.8 385.8,527.7 C387.5,529.8 390,531 392.5,531.8 C394,532.3 395.5,532.7 397,533"/>
<!-- ribbed bracket -->
<path d="M388,531.3 L399.5,525 L402.5,529.3 L392,535.3" stroke-width="0.7"/>
<path d="M390,530.3 L392.5,534.5 M391.6,529.4 L394.1,533.6 M393.2,528.5 L395.7,532.7 M394.8,527.6 L397.3,531.8 M396.4,526.7 L398.9,530.9 M398,525.8 L400.500,530" stroke-width="0.8"/>
<path d="M388.3,535.5 L388.3,539.3 L391.5,541.5 L394,540.5" stroke-width="0.7"/>
<g transform="rotate(25 404 538)">
<rect x="395.5" y="534.5" width="16.5" height="6.6" rx="1.3"/>
<path d="M399,534.5 L397.6,541.1 M400.6,534.5 L399.200,541.1 M402.2,534.5 L400.8,541.1 M403.8,534.5 L402.4,541.1 M405.4,534.5 L404,541.1 M407,534.5 L405.6,541.1" stroke-width="0.7"/>
</g>
<path d="M411.5,540.3 C415,541.3 418.5,542.5 421.3,543.9 C424,546 426,548.5 426.9,551.1 C428,556 428.4,562 428.5,567.1 C428.5,577 428.5,589 428.5,599"/>
<path d="M412.6,543 C415,543.7 417.5,544.6 419.500,545.600" stroke-width="0.7"/>
</g>
<!-- long runs (thin dash-dot) -->
<g class="c" style="stroke:#3c3c3c;stroke-dasharray:46 1.2 1.6 1.2;stroke-width:0.85">
<path d="M417.3,592 C417.3,600 418,607 419.8,612.3 C421.5,618 425,623 429.8,627.2 C436,632 445,635.8 454.6,638.4 C465,641.3 477,643.2 489.5,644.1 C502,644.8 516,645 529.3,644.9 C543,644.3 556,642.5 567.9,640.3 C578,638 588,634.8 595.9,631.3 C604,628 612,624 618.2,620.1 C625,616.5 630.5,613 635,608.9 C639,604.5 642,600 644.1,594.9 C646,590.5 647.7,586 649,581"/>
<path d="M428.5,599 C428.6,605 430,610.5 432.2,614.8 C434.5,619.3 438,623 442.2,626 C449,629 458,631 467.1,632.2 C479,634 492,635.3 504.4,635.9 C516,636.1 528,635.4 540,634.1 C550,633 560,631.3 567.9,629.2 C578,626.5 588,622.8 595.9,618.7 C603,615 610,610.8 615.5,606.1 C620,602 623.8,598 626.6,593.5 C629,589 631.3,584.5 632.9,579.6"/>
</g>
<path class="g" d="M398.900,592.800 H416.600"/>
<path class="l" d="M428.800,599.500 H447"/>
<!-- ===== cables right ends ===== -->
<g id="cablesR" class="p" stroke-width="0.8">
<!-- A (inner) -->
<path d="M631.3,578.5 C632.5,572 634.5,565 636.3,557.5 C637.2,552.5 638.8,547.5 641.3,544 C643.8,540.8 647,538.3 650,536.5 M634.6,579.3 C635.8,573 637.5,565.5 639,559 C640,554 641.5,549.5 643.8,546.3 C646,543.5 648.8,541.2 651.8,539.500"/>
<path d="M636.600,556.300 L639.8,557 M636.200,558.500 L639.3,559.200" stroke-width="0.7"/>
<g transform="rotate(-32 657.3 531.700)">
<rect x="649.600" y="529.200" width="15.400" height="5" rx="2"/>
<path d="M654.500,529.200 V534.200 M659.500,529.200 V534.200" stroke-width="0.6"/>
</g>
<path d="M664.300,527.300 L674.500,521" stroke-width="0.8"/>
<path d="M666.500,523.600 L668.900,527.700 M668,522.700 L670.400,526.800 M669.500,521.800 L671.900,525.900 M671,521 L673.400,525 M672.500,520.100 L674.900,524.100" stroke-width="1.1"/>
<path d="M674.900,523.700 L684.500,518" stroke-width="1.500"/>
<ellipse cx="685.800" cy="517.200" rx="2.200" ry="2" transform="rotate(-30 685.800 517.200)" stroke-width="0.9"/>
<!-- B (outer) -->
<path d="M647.500,580.300 C648.500,575 649.800,569 651.200,563.500 C652.300,559 654,555 656.300,552 C658.500,549.500 661,547.200 663.700,545.300 M650.700,581.300 C651.700,576 653,570 654.300,565 C655.300,560.800 656.800,557.200 658.800,554.500 C660.800,552.200 663,550.200 665.500,548.400"/>
<path d="M651.400,564.500 L654.500,565.300 M651,566.700 L654,567.500" stroke-width="0.7"/>
<g transform="rotate(-30 670.900 540.900)">
<rect x="663.200" y="538.400" width="15.400" height="5" rx="2"/>
<path d="M668.100,538.400 V543.400 M673.100,538.400 V543.400" stroke-width="0.6"/>
</g>
<path d="M677.800,536.800 L687.500,531.200" stroke-width="0.8"/>
<path d="M680,533.300 L682.400,537.400 M681.500,532.400 L683.900,536.500 M683,531.500 L685.400,535.600 M684.500,530.700 L686.900,534.700 M686,529.800 L688.400,533.800" stroke-width="1.1"/>
<path d="M688.400,532.700 L698.200,527" stroke-width="1.500"/>
<ellipse cx="699.500" cy="526.100" rx="2.200" ry="2" transform="rotate(-30 699.500 526.100)" stroke-width="0.9"/>
</g>
<!-- ===== cover 8 (lower) ===== -->
<g id="p8" class="p" stroke-width="0.9">
<!-- outline -->
<path d="M478.700,491.200 C476.500,494.500 474.200,498.300 472.400,501.700 C471,504.500 469.800,507.300 468.700,509.800 C464.500,511.800 459.500,513.200 455.200,513.400 C453,511.500 451.200,509.500 449.800,508 C444.500,508.500 439,509.500 434.400,510.700"/>
<path d="M434.400,510.700 C434.200,516 434.500,521.500 435.300,526.900 C436.800,535.500 439,544.500 441.700,552.200 C445,560.500 450,568 456.100,573.900 C461.500,578.500 467.500,582.200 474.200,584.700 C481,587 488.500,588.800 495.800,590.100 C500,591 504.500,592.500 508.500,593.700 C512.500,592.500 517,590.800 521.100,589.200 C533.500,587 547,584.200 559,581.100 C564.500,578.500 569.500,575.300 573.500,572.100 C574.300,570.300 574.900,568.500 575.300,566.700 C573.500,565.800 571.500,564.800 569.800,564 C571.800,561.500 573.800,558.500 575.300,555.800 C576.200,552.500 576.800,549.300 577.100,546.400 C571.500,546.700 566,547.500 560.800,548.600 C555.300,550.500 549.500,553.200 544.600,555.800 C540.500,558.800 536,562 531.900,564.900 C529,566 526,566.600 522.900,566.700 C517.500,564.700 512,562.200 506.700,559.400 C502,555.800 497.500,552 494,548.600 C492.300,543 490.800,536.500 489.500,530.600 C487.500,521.500 485.500,512 483.200,503.500 C481.800,499.300 480.300,495 478.700,491.200"/>
<!-- inner right parallel -->
<path d="M477.500,494 C479,497 480.300,500.300 481.400,503.500 C483.800,513 485.800,523 487.700,532.400 C489,538.500 490.500,545 492.200,550.400 C496,554.500 500.500,558.700 504.900,562.100 C510.500,565 517.500,567.600 523.800,569.400 C527,569.300 530,568.700 533,567.800" stroke-width="0.7"/>
<!-- left inner line -->
<path d="M437.300,520.600 C438.500,532 441,545 444.600,555.900 C448.500,562.800 454,568.800 460.600,573.500" stroke-width="1.1"/>
<!-- vertical creases -->
<path d="M468.700,521.500 L474.200,560.300 M482.300,512.500 L489.500,566.700" stroke-width="0.7"/>
<!-- tray surround -->
<path d="M445.300,559.400 C454.500,559.600 464.500,560.200 474.200,561.200 C480.500,563 486.500,565.500 492.200,568.500 C499.500,572.300 507,576.500 513.900,581.100 C515.700,582.800 517.300,584.700 518.400,586.500" stroke-width="0.8"/>
<path d="M513.900,580.200 C530,570.500 547,559.700 562.600,549.500 M522.900,586.500 C531.500,581.500 541,575.800 550,570.300" stroke-width="0.7"/>
<ellipse cx="479.600" cy="576.400" rx="19.500" ry="5.600" transform="rotate(16 479.600 576.400)" stroke-width="0.8"/>
<path d="M462.500,573 C469,570 480,571.500 490,575 C494.500,576.700 497.500,579 498.300,581.200" stroke-width="0.6"/>
<!-- hatched lip -->
<path d="M457,573.900 C460,577.300 463.300,580.300 466.900,582.900 C475,585.200 484,587 492.200,588.300" stroke-width="0.8"/>
<path d="M459.200,574.300 L461.300,577.600 M461.200,575.300 L463.300,578.600 M463.200,576.200 L465.300,579.500 M465.200,577.100 L467.300,580.400 M467.200,578 L469.300,581.300 M469.200,578.800 L471.300,582.100 M471.200,579.500 L473.300,582.800 M473.200,580.200 L475.300,583.500 M475.200,580.800 L477.300,584.100 M477.200,581.400 L479.300,584.700 M479.200,581.900 L481.300,585.200 M481.200,582.400 L483.300,585.700 M483.200,582.800 L485.300,586.100 M485.200,583.200 L487.300,586.500" stroke-width="0.6"/>
<path d="M494.500,585.500 L498.800,581 L503,586" stroke-width="0.8"/>
<path d="M503,590.800 L508,589.500 L513.500,591" stroke-width="0.7"/>
<!-- tabs -->
<path d="M471.800,504.800 L473.300,502.300 L478,503 L478.600,507 L476.500,509.500 L472,508.800 Z M473.300,502.300 L473.900,506.200 L478.600,507 M473.900,506.200 L472,508.800" stroke-width="0.8"/>
<path d="M560.300,556 L562.500,553.500 L567,554.500 L567.300,559 L565,562 L560.600,561 Z M562.500,553.500 L562.900,558 L567.300,559 M562.900,558 L560.600,561" stroke-width="0.8"/>
<path d="M449.500,559.500 L453.800,555.800 L458.500,558 L455,561.500" stroke-width="0.8"/>
<path d="M538.500,561.500 L543.500,556.500 L545.800,557.800 L541,562.500" stroke-width="0.8"/>
<path d="M506.500,559.200 L509,557.500 L511.500,560.500" stroke-width="0.7"/>
<!-- holes -->
<ellipse cx="440.800" cy="517.700" rx="3.200" ry="4.600" transform="rotate(-35 440.800 517.700)" stroke-width="0.8"/>
<ellipse cx="438.300" cy="515" rx="1.400" ry="1.400" stroke-width="1"/>
<path d="M545.800,576.300 C547,574.800 549.200,574.500 550.800,575.500 C552,576.500 552.300,578 551.600,579.300 L549,582.300 L544.500,579.500 Z" stroke-width="0.8"/>
<ellipse cx="548.200" cy="578.200" rx="1.400" ry="1.400" stroke-width="1"/>
</g>
<path class="l" d="M471.500,587.400 V607.300"/>
<!-- screw 9 -->
<path class="l" stroke-width="0.8" d="M551.200,586.500 L560.600,604.800"/>
<g id="p9" class="p" stroke-width="0.8">
<path d="M561,606.800 L559.800,611.500 L562.300,617.800 L566.800,616 L564.300,609.500 Z" />
<path d="M560,610.500 L564.800,609 M560.500,612.800 L565.600,611.200 M561.400,615 L566.500,613.400" stroke-width="0.9"/>
<ellipse cx="566.100" cy="620" rx="4.800" ry="3.200" transform="rotate(-15 566.100 620)" class="w"/>
<path d="M561.700,622 C563,624.500 567,624.800 570.300,621" stroke-width="0.8"/>
</g>
<path class="l" d="M543.500,614.200 H561"/>
<!-- ===== FWD arrow ===== -->
<g id="fwd" class="p" stroke-width="0.9">
<path d="M311,608.400 L325.300,585.100 L329.600,587.200 L355,571.300 L358.700,573.900 L358.900,592.300 L330,611.400 L329.600,617.200 L314.900,610.300 Z"/>
<path d="M314.900,610.300 L328,588.600 L329.600,587.200 M328,588.600 L330,592 L358.700,573.900 M330,592 L330,611.400" stroke-width="0.85"/>
<filter id="noop" x="-10%" y="-10%" width="120%" height="120%"><feOffset dx="0" dy="0"/></filter><g filter="url(#noop)"><text transform="matrix(0.545,-0.315,-0.11,1,330.700,608.300)" style="text-rendering:geometricPrecision;font-size:19.500px;fill:#222;stroke:#222;stroke-width:0.75px">FWD</text></g>
</g>

<g id="labels" opacity="0.995">
<text transform="translate(378.5,63.8) scale(1.17,1)" text-anchor="middle">27</text>
<text transform="translate(345.1,84.2) scale(1.17,1)" text-anchor="middle">29</text>
<text transform="translate(589.2,105.4) scale(1.17,1)" text-anchor="middle">25</text>
<text transform="translate(551.6,125.0) scale(1.17,1)" text-anchor="middle">26</text>
<text transform="translate(550.4,157.0) scale(1.17,1)" text-anchor="middle">28</text>
<text transform="translate(308.4,249.7) scale(1.17,1)" text-anchor="middle">33</text>
<text transform="translate(330.6,249.7) scale(1.17,1)" text-anchor="middle">34</text>
<text transform="translate(350.8,249.7) scale(1.17,1)" text-anchor="middle">32</text>
<text transform="translate(369.9,249.7) scale(1.17,1)" text-anchor="middle">31</text>
<text transform="translate(427.8,277.6) scale(1.17,1)" text-anchor="middle">23</text>
<text transform="translate(528.2,259.0) scale(1.17,1)" text-anchor="middle">16</text>
<text transform="translate(546.5,301.6) scale(1.17,1)" text-anchor="middle">21</text>
<text transform="translate(558.6,332.8) scale(1.17,1)" text-anchor="middle">2</text>
<text transform="translate(410.6,321.2) scale(1.17,1)" text-anchor="middle">7</text>
<text transform="translate(440.9,351.9) scale(1.17,1)" text-anchor="middle">5</text>
<text transform="translate(463.4,377.8) scale(1.17,1)" text-anchor="middle">21</text>
<text transform="translate(436.6,400.8) scale(1.17,1)" text-anchor="middle">11</text>
<text transform="translate(549.3,419.5) scale(1.17,1)" text-anchor="middle">1</text>
<text transform="translate(592.0,360.4) scale(1.17,1)" text-anchor="middle">13</text>
<text transform="translate(650.1,345.5) scale(1.17,1)" text-anchor="middle">17</text>
<text transform="translate(630.3,372.0) scale(1.17,1)" text-anchor="middle">22</text>
<text transform="translate(662.4,471.0) scale(1.17,1)" text-anchor="middle">6</text>
<text transform="translate(708.0,471.0) scale(1.17,1)" text-anchor="middle">7</text>
<text transform="translate(631.0,159.0) scale(1.17,1)" text-anchor="middle">24</text>
<text transform="translate(609.6,183.9) scale(1.17,1)" text-anchor="middle">20</text>
<text transform="translate(617.1,220.0) scale(1.17,1)" text-anchor="middle">19</text>
<text transform="translate(642.4,198.3) scale(1.17,1)" text-anchor="middle">15</text>
<text transform="translate(666.0,210.0) scale(1.17,1)" text-anchor="middle">14</text>
<text transform="translate(704.0,208.2) scale(1.17,1)" text-anchor="middle">20</text>
<text transform="translate(689.1,247.0) scale(1.17,1)" text-anchor="middle">18</text>
<text transform="translate(644.5,261.0) scale(1.17,1)" text-anchor="middle">12</text>
<text transform="translate(354.9,377.9) scale(1.17,1)" text-anchor="middle">30</text>
<text transform="translate(316.3,399.9) scale(1.17,1)" text-anchor="middle">36</text>
<text transform="translate(337.5,399.9) scale(1.17,1)" text-anchor="middle">35</text>
<text transform="translate(375.4,463.2) scale(1.17,1)" text-anchor="middle">30</text>
<text transform="translate(348.7,470.6) scale(1.17,1)" text-anchor="middle">35</text>
<text transform="translate(325.4,479.0) scale(1.17,1)" text-anchor="middle">36</text>
<text transform="translate(547.5,518.5) scale(1.17,1)" text-anchor="middle">10</text>
<text transform="translate(390.9,596.8) scale(1.17,1)" text-anchor="middle">3</text>
<text transform="translate(455.5,603.6) scale(1.17,1)" text-anchor="middle">4</text>
<text transform="translate(470.9,619.3) scale(1.17,1)" text-anchor="middle">8</text>
<text transform="translate(536.1,618.5) scale(1.17,1)" text-anchor="middle">9</text>
<text x="305.6" y="645.3" style="font-size:10.1px">5SE1300-B275</text>
</g>
</svg>
</body></html>
